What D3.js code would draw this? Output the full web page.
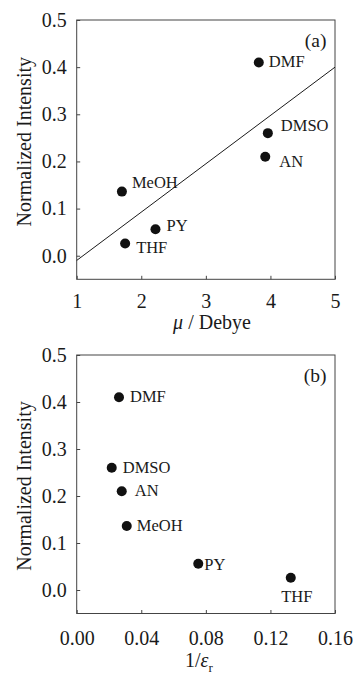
<!DOCTYPE html>
<html>
<head>
<meta charset="utf-8">
<script src="https://cdn.jsdelivr.net/npm/d3@7"></script>
<style>
  body { margin: 0; background: #fff; }
  svg text { font-family: 'Liberation Serif', 'Times New Roman', serif; fill: #1a1a1a; }
</style>
</head>
<body>
<div id="chart"></div>
<script>
// solvent names, shared by both panels
const solvents = ['DMF', 'DMSO', 'AN', 'MeOH', 'PY', 'THF'];
// normalized intensity (same in both panels)
const intensity = [0.41, 0.26, 0.21, 0.136, 0.056, 0.026];
// panel (a): dipole moment, Debye
const dipole = [3.82, 3.96, 3.92, 1.70, 2.22, 1.75];
// panel (b): 1 / dielectric constant
const invEps = [0.0262, 0.0217, 0.0279, 0.031, 0.0753, 0.1326];
// fit line in panel (a), endpoints
const fitX = [1, 5];
const fitY = [-0.01, 0.40];

const yTicks = [0.0, 0.1, 0.2, 0.3, 0.4, 0.5];
const xTicksA = [1, 2, 3, 4, 5];
const xTicksB = [0.00, 0.04, 0.08, 0.12, 0.16];

// label offsets (dx, dy, anchor) per panel
const labelPosA = {
  DMF: [10, 5, 'start'], DMSO: [13, -2, 'start'], AN: [14, 10, 'start'],
  MeOH: [10, -4, 'start'], PY: [11, 2, 'start'], THF: [11, 10, 'start']
};
const labelPosB = {
  DMF: [11, 5, 'start'], DMSO: [11, 5, 'start'], AN: [13, 5, 'start'],
  MeOH: [10, 5, 'start'], PY: [6, 6, 'start'], THF: [6, 24, 'middle']
};

const width = 353, height = 674;
const svg = d3.select('#chart').append('svg')
  .attr('width', width)
  .attr('height', height);

function drawPanel(opts) {
  const g = svg.append('g').attr('class', 'panel');
  const x = d3.scaleLinear().domain(opts.xDomain).range([76.7, 335]);
  const y = d3.scaleLinear().domain([-0.05, 0.5]).range([opts.bottom, opts.top]);

  // frame
  g.append('rect')
    .attr('x', 76.7).attr('y', opts.top)
    .attr('width', 335 - 76.7).attr('height', opts.bottom - opts.top)
    .attr('fill', 'none').attr('stroke', '#444').attr('stroke-width', 1);

  const yAxis = d3.axisLeft(y).tickValues(yTicks).tickFormat(d3.format('.1f'))
    .tickSizeInner(-3.5).tickSizeOuter(0).tickPadding(10);
  const yg = g.append('g').attr('transform', 'translate(76.7,0)').call(yAxis);
  yg.select('.domain').remove();
  yg.selectAll('line').attr('stroke', '#444');
  yg.selectAll('text').attr('font-size', 20).attr('fill', '#1a1a1a')
    .attr('font-family', "'Liberation Serif', serif");

  const xAxis = d3.axisBottom(x).tickValues(opts.xTicks).tickFormat(opts.xFormat)
    .tickSizeInner(-3.5).tickSizeOuter(0).tickPadding(0);
  const xg = g.append('g').attr('transform', `translate(0,${opts.bottom})`).call(xAxis);
  xg.select('.domain').remove();
  xg.selectAll('line').attr('stroke', '#444');
  xg.selectAll('text').attr('font-size', 20).attr('fill', '#1a1a1a')
    .attr('font-family', "'Liberation Serif', serif")
    .attr('dy', null).attr('y', opts.tickBase - opts.bottom);

  // y title
  g.append('text')
    .attr('transform', `translate(30.5,${opts.titleY}) rotate(-90)`)
    .attr('text-anchor', 'middle').attr('font-size', 20)
    .text('Normalized Intensity');

  if (opts.fit) {
    g.append('line')
      .attr('x1', x(fitX[0])).attr('y1', y(fitY[0]))
      .attr('x2', x(fitX[1])).attr('y2', y(fitY[1]))
      .attr('stroke', '#1a1a1a').attr('stroke-width', 1);
  }

  const pts = solvents.map((s, i) => ({ name: s, x: opts.xs[i], y: intensity[i] }));
  g.selectAll('circle.pt').data(pts).join('circle')
    .attr('class', 'pt')
    .attr('cx', d => x(d.x)).attr('cy', d => y(d.y))
    .attr('r', 5).attr('fill', '#111');

  g.selectAll('text.lbl').data(pts).join('text')
    .attr('class', 'lbl')
    .attr('x', d => x(d.x) + opts.labels[d.name][0])
    .attr('y', d => y(d.y) + opts.labels[d.name][1])
    .attr('text-anchor', d => opts.labels[d.name][2])
    .attr('font-size', 16.5)
    .text(d => d.name);

  g.append('text')
    .attr('x', 326.5).attr('y', opts.top + 27)
    .attr('text-anchor', 'end').attr('font-size', 19.5)
    .text(opts.tag);

  return g;
}

const ga = drawPanel({
  top: 20, bottom: 279.3, xDomain: [1, 5], xTicks: xTicksA, xFormat: d3.format('d'),
  tickBase: 308.3, xs: dipole, labels: labelPosA, tag: '(a)', fit: true, titleY: 141.7
});
const ta = ga.append('text').attr('x', 212).attr('y', 328.5)
  .attr('text-anchor', 'middle').attr('font-size', 20);
ta.append('tspan').attr('font-style', 'italic').text('\u03bc');
ta.append('tspan').text(' / Debye');

const gb = drawPanel({
  top: 355, bottom: 613.5, xDomain: [0, 0.16], xTicks: xTicksB, xFormat: d3.format('.2f'),
  tickBase: 645, xs: invEps, labels: labelPosB, tag: '(b)', fit: false, titleY: 486
});
const tb = gb.append('text').attr('x', 185).attr('y', 666.7)
  .attr('text-anchor', 'start').attr('font-size', 20);
tb.append('tspan').text('1/');
tb.append('tspan').attr('font-style', 'italic').text('\u03b5');
tb.append('tspan').attr('font-size', 13).attr('dy', 5).text('r');
</script>
</body>
</html>
